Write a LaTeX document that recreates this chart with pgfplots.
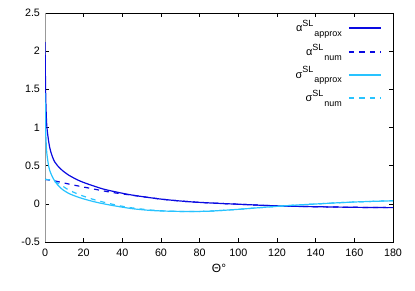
\documentclass[border=0pt]{standalone}
\usepackage{fontspec}
\setmainfont{Liberation Sans}
\usepackage{pgfplots}
\pgfplotsset{compat=1.18}
\definecolor{dblue}{RGB}{10,10,225}
\definecolor{lblue}{RGB}{40,195,255}
\newcommand{\lgd}[3]{#1\raisebox{5.5bp}{\fontsize{9}{10}\selectfont #2}\kern1bp\raisebox{-4.5bp}{\fontsize{9}{10}\selectfont #3}}
\begin{document}
\begin{tikzpicture}
\begin{axis}[
  scale only axis, width=348bp, height=229bp,
  xmin=0, xmax=180, ymin=-0.5, ymax=2.5,
  xtick={0,20,...,180}, ytick={-0.5,0,0.5,1,1.5,2,2.5},
  /pgf/number format/assume math mode=true,
  yticklabel style={/pgf/number format/fixed, xshift=-1.5bp},
  xticklabel style={yshift=-3bp},
  tick style={black, thin}, major tick length=4bp,
  ticklabel style={font=\fontsize{10.8}{12}\selectfont},
  xlabel={Θ°}, xlabel style={font=\fontsize{12}{14}\selectfont, yshift=-1bp},
  axis line style={black, line width=0.6pt},
  clip=true,
]
\addplot[gray!80, line width=2.5bp, forget plot] coordinates {(0,-0.5) (0,2.5)};
\addplot[dblue, line width=1.2bp, smooth] coordinates {
(0,2.12)(0.3,1.5)(0.6,1.2)(1,1.0)(2,0.8)(3,0.68)(5,0.55)(8,0.46)(12,0.38)(18,0.30)(25,0.235)(30,0.195)(35,0.165)(45,0.115)(60,0.062)(75,0.027)(90,0.006)(100,-0.005)(115,-0.022)(130,-0.033)(150,-0.042)(165,-0.047)(180,-0.05)};
\addplot[dblue, line width=1.2bp, dash pattern=on 5bp off 5bp, smooth] coordinates {
(0,0.32)(5,0.30)(10,0.272)(15,0.245)(20,0.22)(25,0.195)(30,0.17)(35,0.148)(40,0.13)(45,0.113)(60,0.062)(75,0.027)(90,0.006)(100,-0.005)(115,-0.022)(130,-0.033)(150,-0.042)(165,-0.047)(180,-0.05)};
\addplot[lblue, line width=1.2bp, smooth] coordinates {
(0,1.45)(0.3,1.0)(0.6,0.8)(1,0.65)(2,0.48)(3,0.40)(5,0.30)(8,0.21)(12,0.14)(18,0.08)(25,0.03)(30,0.002)(35,-0.022)(45,-0.063)(55,-0.087)(65,-0.097)(75,-0.1)(85,-0.096)(100,-0.072)(110,-0.052)(120,-0.033)(130,-0.016)(140,-0.002)(150,0.012)(160,0.024)(170,0.033)(180,0.04)};
\addplot[lblue, line width=1.2bp, dash pattern=on 5bp off 5bp, smooth] coordinates {
(0,0.32)(3,0.31)(6,0.28)(9,0.235)(12,0.185)(18,0.118)(25,0.058)(30,0.024)(35,-0.006)(40,-0.032)(45,-0.053)(55,-0.082)(65,-0.097)(75,-0.1)(85,-0.096)(100,-0.072)(110,-0.052)(120,-0.033)(130,-0.016)(140,-0.002)(150,0.012)(160,0.024)(170,0.033)(180,0.04)};
% legend samples
\addplot[dblue, line width=1.4bp] coordinates {(157.2,2.303)(173.8,2.303)};
\addplot[dblue, line width=1.4bp, dash pattern=on 5.5bp off 5bp] coordinates {(157.2,1.989)(173.8,1.989)};
\addplot[lblue, line width=1.4bp] coordinates {(157.2,1.688)(173.8,1.688)};
\addplot[lblue, line width=1.4bp, dash pattern=on 5.5bp off 5bp] coordinates {(157.2,1.386)(173.8,1.386)};
\node[anchor=base east, inner sep=0pt, yshift=-3.5bp, font=\fontsize{11}{13}\selectfont] at (axis cs:153.6,2.303) {\lgd{α}{SL}{approx}};
\node[anchor=base east, inner sep=0pt, yshift=-3.5bp, font=\fontsize{11}{13}\selectfont] at (axis cs:153.6,1.989) {\lgd{α}{SL}{num}};
\node[anchor=base east, inner sep=0pt, yshift=-3.5bp, font=\fontsize{11}{13}\selectfont] at (axis cs:153.6,1.688) {\lgd{σ}{SL}{approx}};
\node[anchor=base east, inner sep=0pt, yshift=-3.5bp, font=\fontsize{11}{13}\selectfont] at (axis cs:153.6,1.386) {\lgd{σ}{SL}{num}};
\end{axis}
\path[use as bounding box] (-45bp,-49bp) rectangle (370bp,242bp);
\end{tikzpicture}
\end{document}
